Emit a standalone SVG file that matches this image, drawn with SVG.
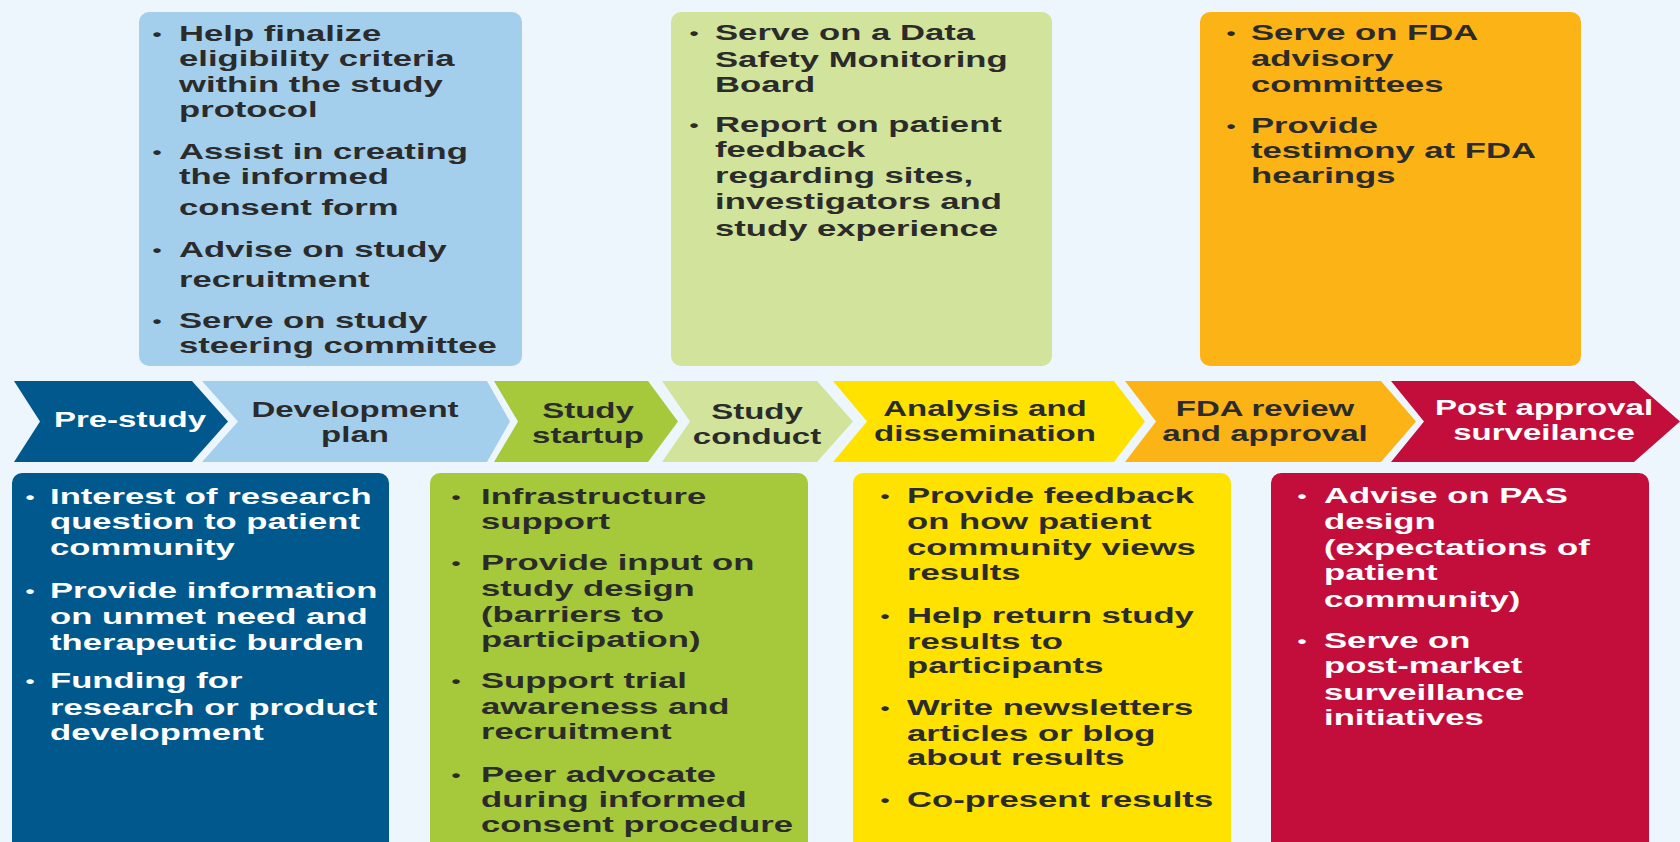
<svg xmlns="http://www.w3.org/2000/svg" width="1680" height="842" viewBox="0 0 1680 842">
<style>
.t{font-family:"Liberation Sans",Arial,sans-serif;font-size:21.4px;font-weight:bold;fill:#2b2b2b}
.bl{font-family:"Liberation Sans",Arial,sans-serif;font-size:16px;font-weight:bold;fill:#2b2b2b;text-anchor:middle}
.c{font-family:"Liberation Sans",Arial,sans-serif;font-size:22px;font-weight:bold;fill:#2b2b2b;text-anchor:middle}
.t.w,.c.w,.bl.w{fill:#ffffff}
</style>
<rect x="0" y="0" width="1680" height="842" fill="#eef6fd"/>
<g id="connectors"/>
<g id="box-dev">
<rect x="139" y="12" width="383" height="354" rx="10" fill="#a3cfec"/>
<g transform="translate(179,0) scale(1.62,1)">
<text class="bl"><tspan x="-13.6" y="40">•</tspan><tspan x="-13.6" y="158">•</tspan><tspan x="-13.6" y="256">•</tspan><tspan x="-13.6" y="327">•</tspan></text>
<text class="t"><tspan x="0" y="41">Help finalize</tspan><tspan x="0" y="66">eligibility criteria</tspan><tspan x="0" y="92">within the study</tspan><tspan x="0" y="117">protocol</tspan><tspan x="0" y="159">Assist in creating</tspan><tspan x="0" y="184">the informed</tspan><tspan x="0" y="215">consent form</tspan><tspan x="0" y="257">Advise on study</tspan><tspan x="0" y="287">recruitment</tspan><tspan x="0" y="328">Serve on study</tspan><tspan x="0" y="353">steering committee</tspan></text>
</g>
</g>
<g id="box-conduct">
<rect x="671" y="12" width="381" height="354" rx="10" fill="#d2e49c"/>
<g transform="translate(715,0) scale(1.62,1)">
<text class="bl"><tspan x="-13" y="39">•</tspan><tspan x="-13" y="131">•</tspan></text>
<text class="t"><tspan x="0" y="40">Serve on a Data</tspan><tspan x="0" y="67">Safety Monitoring</tspan><tspan x="0" y="92">Board</tspan><tspan x="0" y="132">Report on patient</tspan><tspan x="0" y="157">feedback</tspan><tspan x="0" y="183">regarding sites,</tspan><tspan x="0" y="209">investigators and</tspan><tspan x="0" y="236">study experience</tspan></text>
</g>
</g>
<g id="box-fda">
<rect x="1200" y="12" width="381" height="354" rx="10" fill="#fbb316"/>
<g transform="translate(1251,0) scale(1.62,1)">
<text class="bl"><tspan x="-12.3" y="39">•</tspan><tspan x="-12.3" y="132">•</tspan></text>
<text class="t"><tspan x="0" y="40">Serve on FDA</tspan><tspan x="0" y="66">advisory</tspan><tspan x="0" y="92">committees</tspan><tspan x="0" y="133">Provide</tspan><tspan x="0" y="158">testimony at FDA</tspan><tspan x="0" y="183">hearings</tspan></text>
</g>
</g>
<g id="chev-prestudy">
<path d="M14,381 H192 L228,421.5 L192,462 H14 L40,421.5 Z" fill="#00588c"/>
<g transform="translate(130,0) scale(1.5,1)"><text x="0" y="427" class="c w">Pre-study</text></g>
</g>
<g id="chev-devplan">
<path d="M202,381 H487 L510,421.5 L487,462 H202 L238,421.5 Z" fill="#a3cfec"/>
<g transform="translate(355,0) scale(1.5,1)"><text class="c"><tspan x="0" y="417">Development</tspan><tspan x="0" y="442">plan</tspan></text></g>
</g>
<g id="chev-startup">
<path d="M494,381 H648 L678,421.5 L648,462 H494 L518,421.5 Z" fill="#a5c93a"/>
<g transform="translate(588,0) scale(1.5,1)"><text class="c"><tspan x="0" y="418">Study</tspan><tspan x="0" y="443">startup</tspan></text></g>
</g>
<g id="chev-conduct">
<path d="M662,381 H817 L853,421.5 L817,462 H662 L690,421.5 Z" fill="#d2e49c"/>
<g transform="translate(757,0) scale(1.5,1)"><text class="c"><tspan x="0" y="419">Study</tspan><tspan x="0" y="444">conduct</tspan></text></g>
</g>
<g id="chev-analysis">
<path d="M833,381 H1114 L1145,421.5 L1114,462 H833 L867,421.5 Z" fill="#ffe200"/>
<g transform="translate(985,0) scale(1.5,1)"><text class="c"><tspan x="0" y="416">Analysis and</tspan><tspan x="0" y="441">dissemination</tspan></text></g>
</g>
<g id="chev-fda">
<path d="M1125,381 H1381 L1416,421.5 L1381,462 H1125 L1156,421.5 Z" fill="#fbb316"/>
<g transform="translate(1265,0) scale(1.5,1)"><text class="c"><tspan x="0" y="416">FDA review</tspan><tspan x="0" y="441">and approval</tspan></text></g>
</g>
<g id="chev-post">
<path d="M1391,381 H1634 L1680,421.5 L1634,462 H1391 L1424,421.5 Z" fill="#c30e3b"/>
<g transform="translate(1544,0) scale(1.5,1)"><text class="c w"><tspan x="0" y="415">Post approval</tspan><tspan x="0" y="440">surveilance</tspan></text></g>
</g>
<g id="box-prestudy">
<rect x="12" y="473" width="377" height="400" rx="10" fill="#00588c"/>
<g transform="translate(50,0) scale(1.62,1)">
<text class="bl w"><tspan x="-12.3" y="503">•</tspan><tspan x="-12.3" y="597">•</tspan><tspan x="-12.3" y="687">•</tspan></text>
<text class="t w"><tspan x="0" y="504">Interest of research</tspan><tspan x="0" y="529">question to patient</tspan><tspan x="0" y="555">community</tspan><tspan x="0" y="598">Provide information</tspan><tspan x="0" y="624">on unmet need and</tspan><tspan x="0" y="650">therapeutic burden</tspan><tspan x="0" y="688">Funding for</tspan><tspan x="0" y="715">research or product</tspan><tspan x="0" y="740">development</tspan></text>
</g>
</g>
<g id="box-startup">
<rect x="430" y="473" width="378" height="400" rx="10" fill="#a5c93a"/>
<g transform="translate(481,0) scale(1.62,1)">
<text class="bl"><tspan x="-15.4" y="503">•</tspan><tspan x="-15.4" y="569">•</tspan><tspan x="-15.4" y="687">•</tspan><tspan x="-15.4" y="781">•</tspan></text>
<text class="t"><tspan x="0" y="504">Infrastructure</tspan><tspan x="0" y="529">support</tspan><tspan x="0" y="570">Provide input on</tspan><tspan x="0" y="596">study design</tspan><tspan x="0" y="622">(barriers to</tspan><tspan x="0" y="647">participation)</tspan><tspan x="0" y="688">Support trial</tspan><tspan x="0" y="714">awareness and</tspan><tspan x="0" y="739">recruitment</tspan><tspan x="0" y="782">Peer advocate</tspan><tspan x="0" y="807">during informed</tspan><tspan x="0" y="832">consent procedure</tspan></text>
</g>
</g>
<g id="box-analysis">
<rect x="853" y="473" width="378" height="400" rx="10" fill="#ffe200"/>
<g transform="translate(907,0) scale(1.62,1)">
<text class="bl"><tspan x="-13.6" y="502">•</tspan><tspan x="-13.6" y="622">•</tspan><tspan x="-13.6" y="714">•</tspan><tspan x="-13.6" y="806">•</tspan></text>
<text class="t"><tspan x="0" y="503">Provide feedback</tspan><tspan x="0" y="529">on how patient</tspan><tspan x="0" y="555">community views</tspan><tspan x="0" y="580">results</tspan><tspan x="0" y="623">Help return study</tspan><tspan x="0" y="649">results to</tspan><tspan x="0" y="673">participants</tspan><tspan x="0" y="715">Write newsletters</tspan><tspan x="0" y="741">articles or blog</tspan><tspan x="0" y="765">about results</tspan><tspan x="0" y="807">Co-present results</tspan></text>
</g>
</g>
<g id="box-post">
<rect x="1271" y="473" width="378" height="400" rx="10" fill="#c30e3b"/>
<g transform="translate(1324,0) scale(1.62,1)">
<text class="bl w"><tspan x="-13.6" y="502">•</tspan><tspan x="-13.6" y="647">•</tspan></text>
<text class="t w"><tspan x="0" y="503">Advise on PAS</tspan><tspan x="0" y="529">design</tspan><tspan x="0" y="555">(expectations of</tspan><tspan x="0" y="580">patient</tspan><tspan x="0" y="607">community)</tspan><tspan x="0" y="648">Serve on</tspan><tspan x="0" y="673">post-market</tspan><tspan x="0" y="700">surveillance</tspan><tspan x="0" y="725">initiatives</tspan></text>
</g>
</g>
</svg>
